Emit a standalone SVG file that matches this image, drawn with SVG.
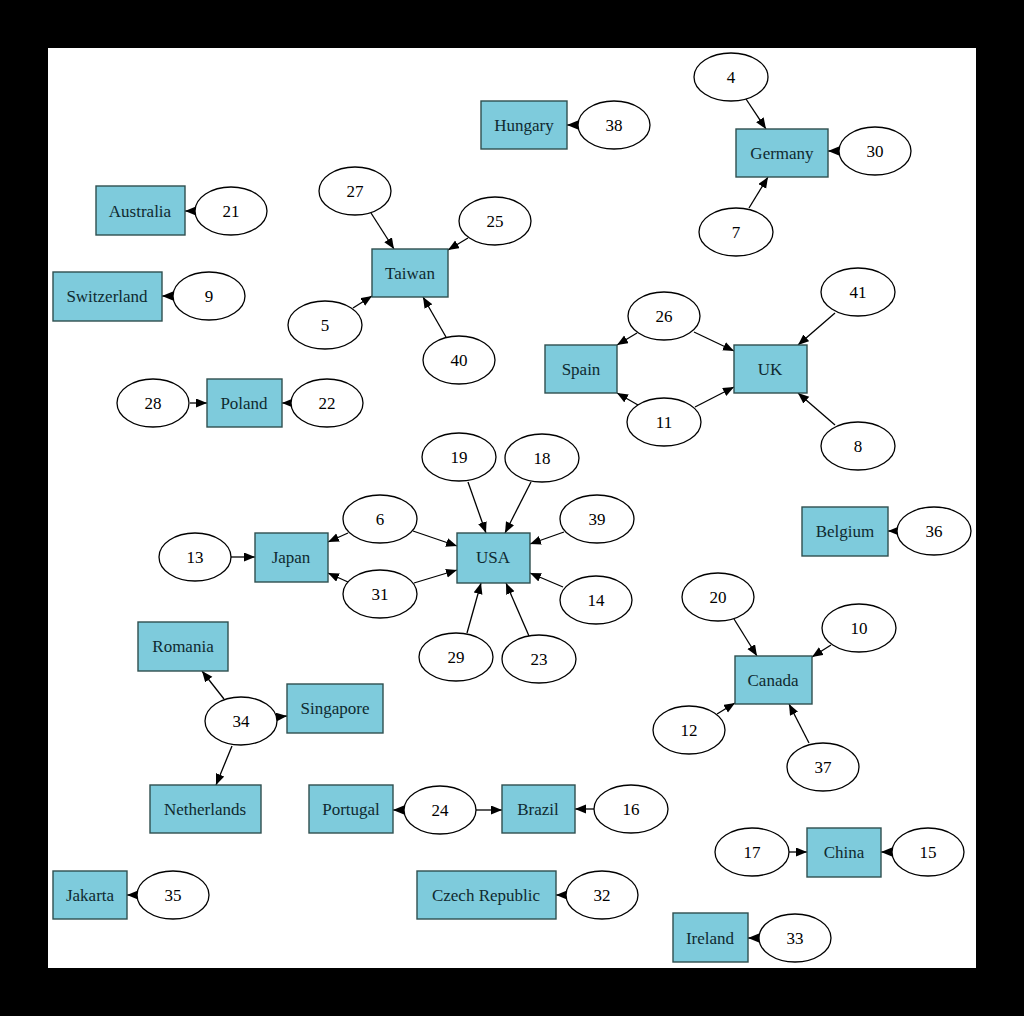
<svg xmlns="http://www.w3.org/2000/svg" width="1024" height="1016" viewBox="0 0 1024 1016">
<style>
.r{fill:#7ecbdc;stroke:#2f4f4f;stroke-width:1.4}
.e{fill:#fff;stroke:#000;stroke-width:1.3}
.t{font-family:"Liberation Serif",serif;font-size:17px;fill:#0f2a30;text-anchor:middle;dominant-baseline:central}
.n{font-family:"Liberation Serif",serif;font-size:17px;fill:#000;text-anchor:middle;dominant-baseline:central}
#edges line{stroke:#000;stroke-width:1.3;marker-end:url(#a)}
</style>
<defs>
<marker id="a" markerUnits="userSpaceOnUse" markerWidth="13" markerHeight="10" refX="11" refY="4.5" orient="auto">
<path d="M0,0 L11,4.5 L0,9 z" fill="#000"/>
</marker>
</defs>
<rect x="0" y="0" width="1024" height="1016" fill="#000"/>
<rect x="48" y="48" width="928" height="920" fill="#fff"/>

<g id="edges">
<line x1="195" y1="211" x2="185" y2="211"/>
<line x1="173" y1="296" x2="162" y2="296"/>
<line x1="578" y1="125" x2="567" y2="125"/>
<line x1="839" y1="151" x2="828" y2="151"/>
<line x1="746" y1="99" x2="766" y2="129"/>
<line x1="749" y1="208" x2="768" y2="177"/>
<line x1="371" y1="213" x2="394" y2="249"/>
<line x1="468" y1="238" x2="448" y2="250"/>
<line x1="353" y1="308" x2="372" y2="296"/>
<line x1="446" y1="337" x2="423" y2="297"/>
<line x1="637" y1="333" x2="617" y2="345"/>
<line x1="694" y1="332" x2="734" y2="351"/>
<line x1="638" y1="405" x2="617" y2="393"/>
<line x1="695" y1="407" x2="734" y2="387"/>
<line x1="835" y1="313" x2="798" y2="345"/>
<line x1="835" y1="425" x2="798" y2="393"/>
<line x1="190" y1="403" x2="207" y2="403"/>
<line x1="291" y1="403" x2="282" y2="403"/>
<line x1="897" y1="531" x2="888" y2="531"/>
<line x1="231" y1="557" x2="255" y2="557"/>
<line x1="348" y1="533" x2="328" y2="542"/>
<line x1="413" y1="531" x2="457" y2="546"/>
<line x1="348" y1="582" x2="328" y2="573"/>
<line x1="414" y1="583" x2="457" y2="570"/>
<line x1="468" y1="482" x2="486" y2="533"/>
<line x1="531" y1="482" x2="505" y2="533"/>
<line x1="564" y1="532" x2="530" y2="544"/>
<line x1="563" y1="587" x2="530" y2="573"/>
<line x1="467" y1="633" x2="481" y2="583"/>
<line x1="529" y1="636" x2="506" y2="583"/>
<line x1="734" y1="619" x2="757" y2="656"/>
<line x1="831" y1="645" x2="812" y2="657"/>
<line x1="717" y1="714" x2="735" y2="703"/>
<line x1="809" y1="743" x2="789" y2="704"/>
<line x1="404" y1="810" x2="393" y2="810"/>
<line x1="476" y1="810" x2="502" y2="810"/>
<line x1="594" y1="809" x2="575" y2="809"/>
<line x1="789" y1="852" x2="807" y2="852"/>
<line x1="892" y1="852" x2="881" y2="852"/>
<line x1="567" y1="895" x2="556" y2="895"/>
<line x1="759" y1="938" x2="748" y2="938"/>
<line x1="137" y1="895" x2="127" y2="895"/>
<line x1="224" y1="699" x2="202" y2="671"/>
<line x1="277" y1="717" x2="287" y2="716"/>
<line x1="232" y1="746" x2="216" y2="785"/>
</g>

<g id="Australia"><rect class="r" x="96" y="186" width="89" height="49"/><text class="t" x="140" y="211">Australia</text></g>
<g id="Switzerland"><rect class="r" x="53" y="272" width="109" height="49"/><text class="t" x="107" y="296">Switzerland</text></g>
<g id="Hungary"><rect class="r" x="481" y="101" width="86" height="48"/><text class="t" x="524" y="125">Hungary</text></g>
<g id="Germany"><rect class="r" x="736" y="129" width="92" height="48"/><text class="t" x="782" y="153">Germany</text></g>
<g id="Taiwan"><rect class="r" x="372" y="249" width="76" height="48"/><text class="t" x="410" y="273">Taiwan</text></g>
<g id="Spain"><rect class="r" x="545" y="345" width="72" height="48"/><text class="t" x="581" y="369">Spain</text></g>
<g id="UK"><rect class="r" x="734" y="345" width="73" height="48"/><text class="t" x="770" y="369">UK</text></g>
<g id="Poland"><rect class="r" x="207" y="379" width="75" height="48"/><text class="t" x="244" y="403">Poland</text></g>
<g id="Belgium"><rect class="r" x="802" y="507" width="86" height="49"/><text class="t" x="845" y="531">Belgium</text></g>
<g id="Japan"><rect class="r" x="255" y="533" width="73" height="49"/><text class="t" x="291" y="557">Japan</text></g>
<g id="USA"><rect class="r" x="457" y="533" width="73" height="50"/><text class="t" x="493" y="557">USA</text></g>
<g id="Romania"><rect class="r" x="138" y="622" width="90" height="49"/><text class="t" x="183" y="646">Romania</text></g>
<g id="Singapore"><rect class="r" x="287" y="684" width="96" height="49"/><text class="t" x="335" y="708">Singapore</text></g>
<g id="Netherlands"><rect class="r" x="150" y="785" width="111" height="48"/><text class="t" x="205" y="809">Netherlands</text></g>
<g id="Portugal"><rect class="r" x="309" y="785" width="84" height="48"/><text class="t" x="351" y="809">Portugal</text></g>
<g id="Brazil"><rect class="r" x="502" y="785" width="73" height="48"/><text class="t" x="538" y="809">Brazil</text></g>
<g id="Canada"><rect class="r" x="735" y="656" width="77" height="48"/><text class="t" x="773" y="680">Canada</text></g>
<g id="China"><rect class="r" x="807" y="828" width="74" height="49"/><text class="t" x="844" y="852">China</text></g>
<g id="Czech_Republic"><rect class="r" x="417" y="871" width="139" height="48"/><text class="t" x="486" y="895">Czech Republic</text></g>
<g id="Ireland"><rect class="r" x="673" y="913" width="75" height="49"/><text class="t" x="710" y="938">Ireland</text></g>
<g id="Jakarta"><rect class="r" x="53" y="871" width="74" height="48"/><text class="t" x="90" y="895">Jakarta</text></g>

<g id="n21"><ellipse class="e" cx="231" cy="211" rx="36" ry="24"/><text class="n" x="231" y="211">21</text></g>
<g id="n9"><ellipse class="e" cx="209" cy="296" rx="36" ry="24"/><text class="n" x="209" y="296">9</text></g>
<g id="n38"><ellipse class="e" cx="614" cy="125" rx="36" ry="24"/><text class="n" x="614" y="125">38</text></g>
<g id="n4"><ellipse class="e" cx="731" cy="77" rx="37" ry="24"/><text class="n" x="731" y="77">4</text></g>
<g id="n30"><ellipse class="e" cx="875" cy="151" rx="36" ry="24"/><text class="n" x="875" y="151">30</text></g>
<g id="n7"><ellipse class="e" cx="736" cy="232" rx="37" ry="24"/><text class="n" x="736" y="232">7</text></g>
<g id="n27"><ellipse class="e" cx="355" cy="191" rx="36" ry="24"/><text class="n" x="355" y="191">27</text></g>
<g id="n25"><ellipse class="e" cx="495" cy="221" rx="36" ry="24"/><text class="n" x="495" y="221">25</text></g>
<g id="n5"><ellipse class="e" cx="325" cy="325" rx="37" ry="24"/><text class="n" x="325" y="325">5</text></g>
<g id="n40"><ellipse class="e" cx="459" cy="360" rx="36" ry="24"/><text class="n" x="459" y="360">40</text></g>
<g id="n26"><ellipse class="e" cx="664" cy="316" rx="36" ry="24"/><text class="n" x="664" y="316">26</text></g>
<g id="n41"><ellipse class="e" cx="858" cy="292" rx="37" ry="24"/><text class="n" x="858" y="292">41</text></g>
<g id="n11"><ellipse class="e" cx="664" cy="422" rx="37" ry="24"/><text class="n" x="664" y="422">11</text></g>
<g id="n8"><ellipse class="e" cx="858" cy="446" rx="37" ry="24"/><text class="n" x="858" y="446">8</text></g>
<g id="n28"><ellipse class="e" cx="153" cy="403" rx="36" ry="24"/><text class="n" x="153" y="403">28</text></g>
<g id="n22"><ellipse class="e" cx="327" cy="403" rx="36" ry="24"/><text class="n" x="327" y="403">22</text></g>
<g id="n36"><ellipse class="e" cx="934" cy="531" rx="37" ry="24"/><text class="n" x="934" y="531">36</text></g>
<g id="n13"><ellipse class="e" cx="195" cy="557" rx="36" ry="24"/><text class="n" x="195" y="557">13</text></g>
<g id="n6"><ellipse class="e" cx="380" cy="519" rx="37" ry="24"/><text class="n" x="380" y="519">6</text></g>
<g id="n31"><ellipse class="e" cx="380" cy="594" rx="37" ry="24"/><text class="n" x="380" y="594">31</text></g>
<g id="n19"><ellipse class="e" cx="459" cy="457" rx="37" ry="24"/><text class="n" x="459" y="457">19</text></g>
<g id="n18"><ellipse class="e" cx="542" cy="458" rx="37" ry="24"/><text class="n" x="542" y="458">18</text></g>
<g id="n39"><ellipse class="e" cx="597" cy="519" rx="37" ry="24"/><text class="n" x="597" y="519">39</text></g>
<g id="n14"><ellipse class="e" cx="596" cy="600" rx="36" ry="24"/><text class="n" x="596" y="600">14</text></g>
<g id="n29"><ellipse class="e" cx="456" cy="657" rx="37" ry="24"/><text class="n" x="456" y="657">29</text></g>
<g id="n23"><ellipse class="e" cx="539" cy="659" rx="37" ry="24"/><text class="n" x="539" y="659">23</text></g>
<g id="n20"><ellipse class="e" cx="718" cy="597" rx="36" ry="24"/><text class="n" x="718" y="597">20</text></g>
<g id="n10"><ellipse class="e" cx="859" cy="628" rx="37" ry="24"/><text class="n" x="859" y="628">10</text></g>
<g id="n12"><ellipse class="e" cx="689" cy="730" rx="36" ry="24"/><text class="n" x="689" y="730">12</text></g>
<g id="n37"><ellipse class="e" cx="823" cy="767" rx="36" ry="24"/><text class="n" x="823" y="767">37</text></g>
<g id="n34"><ellipse class="e" cx="241" cy="721" rx="36" ry="24"/><text class="n" x="241" y="721">34</text></g>
<g id="n24"><ellipse class="e" cx="440" cy="810" rx="36" ry="24"/><text class="n" x="440" y="810">24</text></g>
<g id="n16"><ellipse class="e" cx="631" cy="809" rx="37" ry="24"/><text class="n" x="631" y="809">16</text></g>
<g id="n17"><ellipse class="e" cx="752" cy="852" rx="37" ry="24"/><text class="n" x="752" y="852">17</text></g>
<g id="n15"><ellipse class="e" cx="928" cy="852" rx="36" ry="24"/><text class="n" x="928" y="852">15</text></g>
<g id="n32"><ellipse class="e" cx="602" cy="895" rx="36" ry="24"/><text class="n" x="602" y="895">32</text></g>
<g id="n33"><ellipse class="e" cx="795" cy="938" rx="36" ry="24"/><text class="n" x="795" y="938">33</text></g>
<g id="n35"><ellipse class="e" cx="173" cy="895" rx="36" ry="24"/><text class="n" x="173" y="895">35</text></g>
</svg>
